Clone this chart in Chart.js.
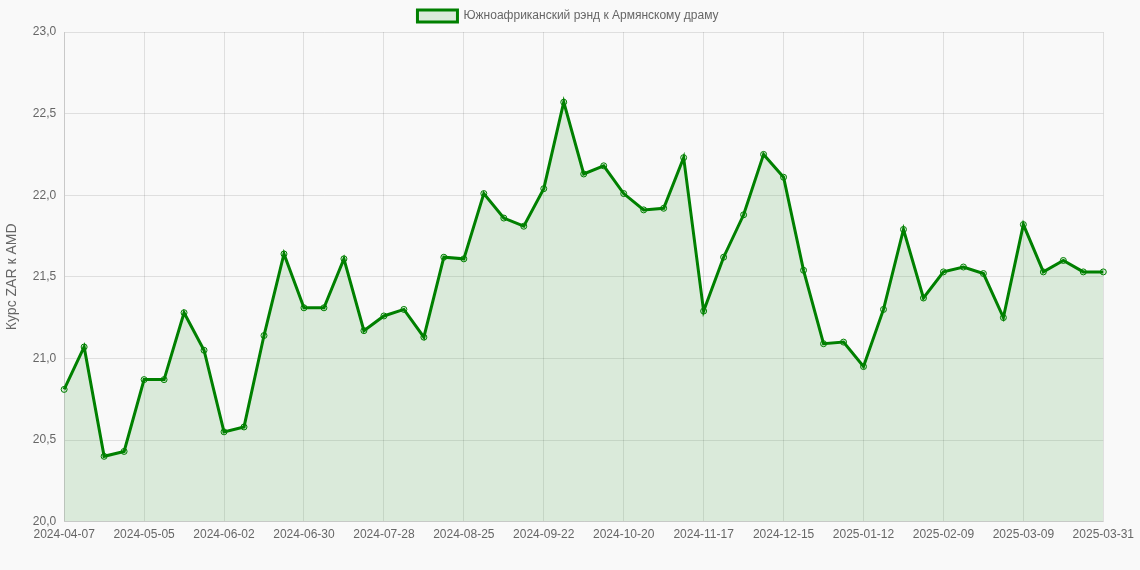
<!DOCTYPE html>
<html>
<head>
<meta charset="utf-8">
<script src="https://cdn.jsdelivr.net/npm/chart.js@4"></script>
<style>
  html,body{margin:0;padding:0;background:#f9f9f9;}
  #wrap{width:1140px;height:570px;}
</style>
</head>
<body>
<div id="wrap"><canvas id="chart"></canvas></div>
<script>
const labels = [
  "2024-04-07","2024-04-14","2024-04-21","2024-04-28","2024-05-05","2024-05-12","2024-05-19","2024-05-26",
  "2024-06-02","2024-06-09","2024-06-16","2024-06-23","2024-06-30","2024-07-07","2024-07-14","2024-07-21",
  "2024-07-28","2024-08-04","2024-08-11","2024-08-18","2024-08-25","2024-09-01","2024-09-08","2024-09-15",
  "2024-09-22","2024-09-29","2024-10-06","2024-10-13","2024-10-20","2024-10-27","2024-11-03","2024-11-10",
  "2024-11-17","2024-11-24","2024-12-01","2024-12-08","2024-12-15","2024-12-22","2024-12-29","2025-01-05",
  "2025-01-12","2025-01-19","2025-01-26","2025-02-02","2025-02-09","2025-02-16","2025-02-23","2025-03-02",
  "2025-03-09","2025-03-16","2025-03-23","2025-03-30","2025-03-31"
];
const rates = [
  20.81,21.07,20.40,20.43,20.87,20.87,21.28,21.05,
  20.55,20.58,21.14,21.64,21.31,21.31,21.61,21.17,
  21.26,21.30,21.13,21.62,21.61,22.01,21.86,21.81,
  22.04,22.57,22.13,22.18,22.01,21.91,21.92,22.23,
  21.29,21.62,21.88,22.25,22.11,21.54,21.09,21.10,
  20.95,21.30,21.79,21.37,21.53,21.56,21.52,21.25,
  21.82,21.53,21.60,21.53,21.53
];
const seriesName = "Южноафриканский рэнд к Армянскому драму";
const yTitle = "Курс ZAR к AMD";

Chart.defaults.font.family = "'Liberation Sans', Arial, sans-serif";
Chart.defaults.font.size = 12;
Chart.defaults.color = "#666";

const shown = i => i % 4 === 0 || i === labels.length - 1;

new Chart(document.getElementById("chart"), {
  type: "line",
  data: {
    labels: labels,
    datasets: [{
      label: seriesName,
      data: rates,
      borderColor: "green",
      backgroundColor: "rgba(0,128,0,0.12)",
      borderWidth: 3,
      fill: true,
      tension: 0,
      pointRadius: 3,
      pointBorderWidth: 1,
      pointBackgroundColor: "rgba(0,128,0,0.12)",
      pointBorderColor: "green"
    }]
  },
  options: {
    responsive: true,
    maintainAspectRatio: false,
    animation: false,
    layout: {padding: {right: 4, bottom: 22}},
    plugins: {
      legend: {
        labels: {boxWidth: 40, boxHeight: 12}
      }
    },
    scales: {
      x: {
        grid: {
          drawTicks: false,
          color: ctx => shown(ctx.index) ? "rgba(0,0,0,0.1)" : "transparent"
        },
        ticks: {
          autoSkip: false,
          maxRotation: 0,
          padding: 6,
          callback: (v, i) => shown(i) ? labels[i] : ""
        }
      },
      y: {
        min: 20,
        max: 23,
        grid: {color: "rgba(0,0,0,0.1)", drawTicks: false},
        ticks: {
          stepSize: 0.5,
          padding: 8,
          callback: v => v.toFixed(1).replace(".", ",")
        },
        title: {display: true, text: yTitle, font: {size: 14}}
      }
    }
  }
});
</script>
</body>
</html>
